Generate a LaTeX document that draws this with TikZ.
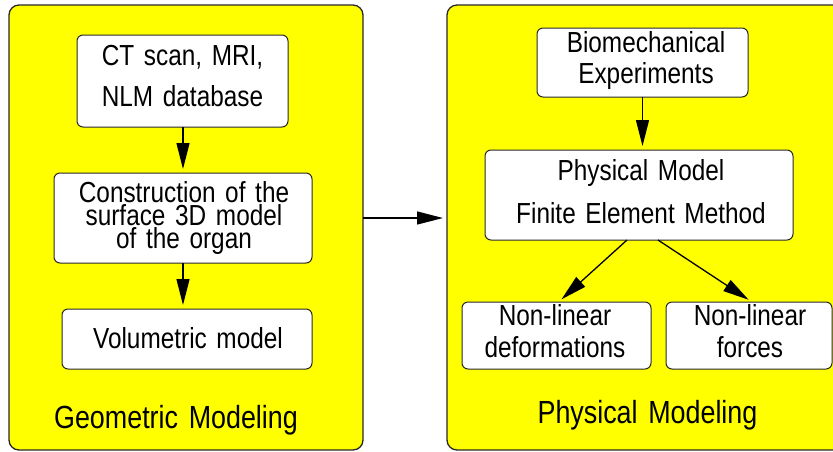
\documentclass[tikz,border=0pt]{standalone}
\usepackage{fontspec}
\newfontfamily\nfont{Liberation Sans}[FakeStretch=0.84]
\usetikzlibrary{arrows.meta}
\definecolor{panelyellow}{RGB}{255,255,0}
\definecolor{edgegray}{RGB}{40,40,40}
\tikzset{
  panel/.style={draw=edgegray, line width=1.3pt, fill=panelyellow, rounded corners=10pt, inner sep=0pt, outer sep=0pt},
  whitebox/.style={draw=edgegray, line width=1pt, fill=white, rounded corners=6pt, inner sep=0pt, outer sep=0pt},
  txt/.style={inner sep=0pt, anchor=base, text width=260pt, align=center},
  arr/.style={line width=1.3pt, -{Triangle[length=26pt,width=13pt]}, shorten >=4pt},
}
\begin{document}
\begin{tikzpicture}[x=1pt,y=-1pt]
\useasboundingbox (0,0) rectangle (833,451);
\clip (0,0) rectangle (833,451);
% panels
\node[panel, minimum width=354pt, minimum height=445pt] (lp) at (186,227.5) {};
\node[panel, minimum width=413pt, minimum height=445pt] (rp) at (653.5,227.5) {};
% left boxes
\node[whitebox, minimum width=211pt, minimum height=92pt] (b1) at (182.5,81) {};
\node[whitebox, minimum width=258pt, minimum height=90pt] (b2) at (183,218) {};
\node[whitebox, minimum width=250pt, minimum height=60pt] (b3) at (187,339) {};
% right boxes
\node[whitebox, minimum width=211pt, minimum height=69pt] (bio) at (642.5,62.5) {};
\node[whitebox, minimum width=308pt, minimum height=90pt] (pm) at (639,195) {};
\node[whitebox, minimum width=189pt, minimum height=67pt] (nd) at (556.5,335.5) {};
\node[whitebox, minimum width=166pt, minimum height=67pt] (nf) at (749,335.5) {};
% texts
\node[txt, font=\nfont\fontsize{29}{41}\selectfont] (t1) at (182.5,65) {CT scan, MRI,\\NLM database};
\node[txt, font=\nfont\fontsize{29}{23}\selectfont] (t2) at (184,202) {Construction of the\\surface 3D model\\of the organ};
\node[txt, font=\nfont\fontsize{29}{29}\selectfont] (t3) at (188,348) {Volumetric model};
\node[txt, font=\nfont\fontsize{32}{32}\selectfont] (t4) at (176,428) {Geometric Modeling};
\node[txt, font=\nfont\fontsize{29}{31}\selectfont] (t5) at (646,52) {Biomechanical\\Experiments};
\node[txt, font=\nfont\fontsize{29}{43}\selectfont] (t6) at (641,180) {Physical Model\\Finite Element Method};
\node[txt, font=\nfont\fontsize{29}{32}\selectfont] (t7) at (555,325) {Non-linear\\deformations};
\node[txt, font=\nfont\fontsize{29}{32}\selectfont] (t8) at (750,325) {Non-linear\\forces};
\node[txt, font=\nfont\fontsize{32}{32}\selectfont] (t9) at (647.5,423) {Physical Modeling};
% connectors
\draw[arr] (b1.south -| b2.north) -- (b2.north);
\draw[arr] (b2.south) -- (b2.south |- b3.north);
\draw[arr] (bio.south) -- (bio.south |- pm.north);
\draw[arr] ([xshift=-12pt]pm.south) -- ([xshift=2pt]nd.north);
\draw[arr] ([xshift=19pt]pm.south) -- ([xshift=3pt]nf.north);
\draw[arr] (lp.east |- b2.center) -- (rp.west |- b2.center);
\end{tikzpicture}
\end{document}
